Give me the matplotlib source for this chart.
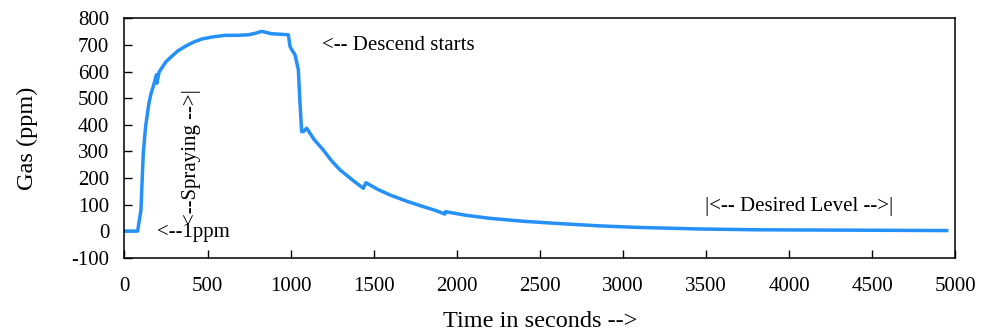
import matplotlib
matplotlib.use('Agg')
import matplotlib.pyplot as plt

# readings taken off the reference curve
time_s = [0, 79, 99, 113, 127, 147, 160, 173, 193, 195, 208, 224, 250, 284, 320,
          364, 410, 464, 530, 605, 680, 745, 790, 825, 885, 940, 986, 996, 1011,
          1026, 1046, 1056, 1066, 1076, 1096, 1140, 1196, 1245, 1297, 1370, 1437,
          1453, 1520, 1597, 1700, 1798, 1870, 1928, 1931, 2060, 2199, 2400, 2600,
          2850, 3082, 3463, 3800, 4200, 4600, 4947]
gas_ppm = [0, 0, 79, 293, 393, 481, 518, 544, 588, 556, 598, 613, 637, 657, 677,
           694, 709, 722, 730, 736, 736, 738, 744, 751, 742, 740, 738, 694, 677,
           663, 607, 481, 374, 374, 387, 345, 305, 265, 230, 193, 161,
           182, 158, 136, 112, 92, 78, 64, 73, 59, 48, 37, 29,
           20, 14, 8, 5, 4, 3, 2]

xticks = list(range(0, 5001, 500))
yticks = list(range(-100, 801, 100))

plt.rcParams['font.family'] = ['Liberation Serif', 'DejaVu Serif']
plt.rcParams['axes.unicode_minus'] = False

fig = plt.figure(figsize=(9.81, 3.34), dpi=100)
ax = fig.add_axes([0.1269, 0.2284, 0.8471, 0.7168])

ax.plot(time_s, gas_ppm, color='#2490f8', lw=2.5)

ax.set_xlim(0, 5000)
ax.set_ylim(-100, 800)
ax.set_xticks(xticks)
ax.set_yticks(yticks)
ax.tick_params(direction='in', length=6, width=1, labelsize=15)
ax.tick_params(axis='x', pad=14)
ax.tick_params(axis='y', pad=11)
for s in ax.spines.values():
    s.set_linewidth(1.1)

ax.set_xlabel('Time in seconds -->', fontsize=17.5, labelpad=11)
ax.set_ylabel('Gas (ppm)', fontsize=17.5, labelpad=24)

ax.text(1188, 697, '<-- Descend starts', fontsize=15, va='center', ha='left')
ax.text(196, -7, '<--1ppm', fontsize=15, va='center', ha='left')
ax.text(404, 23, '<--Spraying -->|', fontsize=15, rotation=90,
        va='bottom', ha='center')
ax.text(3493, 91, '|<-- Desired Level -->|', fontsize=15, va='center', ha='left')

fig.savefig('out.png', dpi=100)
